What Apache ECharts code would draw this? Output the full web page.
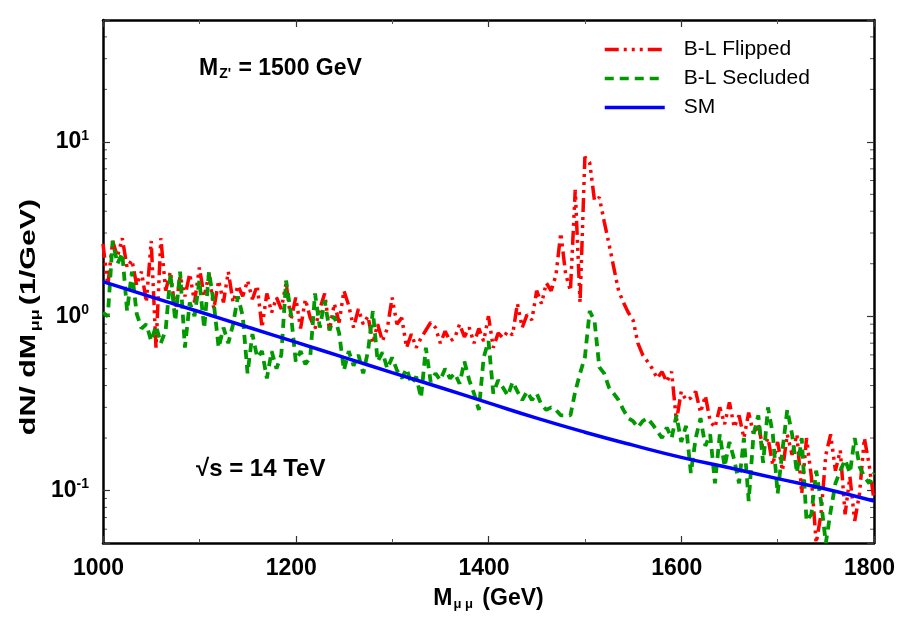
<!DOCTYPE html>
<html>
<head>
<meta charset="utf-8">
<script src="https://cdn.jsdelivr.net/npm/echarts@6.0.0/dist/echarts.min.js"></script>
<style>
  html, body { margin: 0; padding: 0; background: #fff; }
  #main { width: 898px; height: 618px; }
</style>
</head>
<body>
<div id="main"></div>
<script>
const chart = echarts.init(document.getElementById("main"));

// bins of 5 GeV from 1000 to 1800
const binStart = 1000;
const binWidth = 5;

// B-L Flipped, dN/dM per bin
const flipped = [
  2.6, 1.5, 2.7, 2.2, 2.8, 1.9, 2.1, 1.5, 1.8, 1.2,
  2.7, 0.66, 2.8, 1.4, 1.8, 1.05, 1.7, 1.3, 1.75, 1.2,
  1.9, 1.3, 1.75, 1.1, 1.6, 1.2, 1.8, 1.2, 1.5, 1.3,
  1.6, 1.25, 1.5, 0.86, 1.35, 1.05, 1.28, 1.1, 1.55, 0.95,
  1.28, 0.85, 1.25, 0.98, 0.85, 1.1, 1.35, 0.83, 1.18, 0.92,
  1.4, 1.15, 0.86, 1.1, 0.9, 1.0, 0.7, 0.9, 0.72, 0.85,
  1.28, 0.9, 0.98, 0.66, 0.79, 0.66, 0.75, 0.83, 0.92, 0.86,
  0.7, 0.82, 0.72, 0.75, 0.9, 0.76, 0.86, 0.7, 0.85, 0.72,
  1.0, 0.66, 0.8, 0.75, 0.82, 0.78, 1.18, 0.86, 1.02, 0.95,
  1.4, 1.18, 1.55, 1.4, 1.72, 3.0, 1.75, 1.4, 5.3, 1.2,
  8.2, 7.6, 4.6, 4.8, 3.5, 2.6, 1.9, 1.4, 1.2, 1.05,
  0.95, 0.7, 0.6, 0.55, 0.5, 0.44, 0.48, 0.42, 0.48, 0.25,
  0.37, 0.33, 0.34, 0.37, 0.28, 0.35, 0.25, 0.23, 0.3, 0.24,
  0.32, 0.23, 0.27, 0.2, 0.28, 0.21, 0.24, 0.17, 0.2, 0.14,
  0.19, 0.13, 0.21, 0.16, 0.21, 0.096, 0.2, 0.12, 0.05, 0.073,
  0.16, 0.21, 0.13, 0.17, 0.073, 0.12, 0.067, 0.096, 0.2, 0.14,
  0.088
];

// B-L Secluded
const secluded = [
  1.05, 1.0, 2.7, 2.0, 2.3, 1.07, 1.8, 1.03, 0.85, 0.9,
  0.72, 0.88, 0.7, 0.83, 1.75, 0.94, 1.8, 0.66, 1.2, 1.0,
  1.6, 0.85, 1.8, 1.18, 0.66, 0.86, 0.7, 0.9, 1.3, 1.0,
  0.47, 0.79, 0.58, 0.63, 0.44, 0.63, 0.5, 0.6, 1.6, 1.03,
  0.55, 0.63, 0.53, 0.58, 1.35, 0.86, 1.23, 0.83, 1.0, 0.8,
  0.49, 0.63, 0.52, 0.6, 0.47, 0.63, 1.07, 0.55, 0.62, 0.5,
  0.58, 0.49, 0.44, 0.5, 0.41, 0.45, 0.34, 0.66, 0.42, 0.47,
  0.43, 0.5, 0.44, 0.47, 0.41, 0.55, 0.43, 0.36, 0.29, 0.58,
  0.72, 0.36, 0.43, 0.39, 0.35, 0.42, 0.37, 0.33, 0.37, 0.33,
  0.36, 0.31, 0.29, 0.3, 0.29, 0.27, 0.27, 0.27, 0.37, 0.47,
  0.58, 1.07, 0.94, 0.51, 0.47, 0.39, 0.36, 0.33, 0.29, 0.26,
  0.25, 0.23, 0.25, 0.26, 0.24, 0.22, 0.2, 0.23, 0.2, 0.27,
  0.19, 0.235, 0.126, 0.2, 0.26, 0.18, 0.21, 0.11, 0.21, 0.137,
  0.19, 0.15, 0.11, 0.2, 0.087, 0.21, 0.27, 0.144, 0.3, 0.21,
  0.096, 0.17, 0.29, 0.21, 0.126, 0.2, 0.067, 0.073, 0.13, 0.087,
  0.05, 0.076, 0.11, 0.13, 0.15, 0.126, 0.2, 0.137, 0.12, 0.11,
  0.126
];

// SM background, every 50 GeV
const smMass = [1000, 1050, 1100, 1150, 1200, 1250, 1300, 1350, 1400,
  1450, 1500, 1550, 1600, 1650, 1700, 1750, 1800];
const smValues = [1.58, 1.29, 1.06, 0.867, 0.71, 0.58, 0.475, 0.39, 0.318,
  0.26, 0.216, 0.182, 0.155, 0.135, 0.117, 0.102, 0.087];

const xTicks = [1000, 1200, 1400, 1600, 1800];
const yMinorMult = [2, 3, 4, 5, 6, 7, 8, 9];
const yDecades = [0.01, 0.1, 1, 10];

const FONT = "Liberation Sans";

function pairs(values) {
  return values.map((v, i) => [binStart + i * binWidth, v]);
}

const xBase = {
  type: "value",
  min: xTicks[0],
  max: xTicks[xTicks.length - 1],
  interval: 200,
  splitLine: { show: false },
  axisLine: { lineStyle: { color: "#000", width: 2.5 } },
  axisTick: { inside: true, length: 7, lineStyle: { color: "#333", width: 1.2 } },
  minorTick: { show: true, splitNumber: 2, length: 4, lineStyle: { color: "#555" } }
};

const yBase = {
  type: "log",
  logBase: 10,
  min: 0.05,
  max: 50,
  splitLine: { show: false },
  axisLine: { lineStyle: { color: "#000", width: 2.5 } },
  axisTick: { inside: true, length: 7, lineStyle: { color: "#333", width: 1.2 } }
};

let option = {
  animation: false,
  grid: { left: 103, right: 24, top: 20, bottom: 75, containLabel: false, outerBoundsMode: "none" },
  legend: {
    orient: "vertical",
    left: 603,
    top: 39,
    padding: 0,
    itemWidth: 60,
    itemHeight: 14,
    itemGap: 8,
    itemStyle: { opacity: 0 },
    lineStyle: { width: 3.5 },
    textStyle: { fontFamily: FONT, fontSize: 21, color: "#000", padding: [0, 0, 0, 14] },
    data: ["B-L Flipped", "B-L Secluded", "SM"]
  },
  xAxis: [
    Object.assign({}, xBase, {
      position: "bottom",
      name: "{b|M}{sub|μ μ}{b| (GeV)}",
      nameLocation: "middle",
      nameGap: 43,
      nameTextStyle: {
        rich: {
          b: { fontFamily: FONT, fontWeight: "bold", fontSize: 23, color: "#000" },
          sub: { fontFamily: FONT, fontWeight: "bold", fontSize: 13, color: "#000", padding: [12, 3, 0, 1] }
        }
      },
      axisLabel: {
        margin: 14,
        padding: [0, 9, 0, 0],
        formatter: (v) => String(v),
        fontFamily: FONT, fontWeight: "bold", fontSize: 23, color: "#000"
      }
    }),
    Object.assign({}, xBase, { position: "top", axisLabel: { show: false } })
  ],
  yAxis: [
    Object.assign({}, yBase, {
      position: "left",
      axisLabel: {
        margin: 14,
        formatter: (v) => {
          const e = Math.log10(v);
          const r = Math.round(e);
          if (Math.abs(e - r) > 1e-6) return "";
          return "{b|10}{s|" + r + "}";
        },
        rich: {
          b: { fontFamily: FONT, fontWeight: "bold", fontSize: 23, color: "#000" },
          s: { fontFamily: FONT, fontWeight: "bold", fontSize: 14, color: "#000", padding: [0, 0, 12, 0] }
        }
      }
    }),
    Object.assign({}, yBase, { position: "right", axisLabel: { show: false } })
  ],
  series: [
    {
      name: "B-L Flipped",
      type: "line",
      symbol: "none",
      data: pairs(flipped),
      z: 3,
      lineStyle: { color: "#ff0000", width: 3.5, type: [14, 5, 3, 5, 3, 5, 3, 5] },
      itemStyle: { color: "#ff0000" }
    },
    {
      name: "B-L Secluded",
      type: "line",
      symbol: "none",
      data: pairs(secluded),
      z: 4,
      lineStyle: { color: "#009a00", width: 3.8, type: [9, 6] },
      itemStyle: { color: "#009a00" }
    },
    {
      name: "SM",
      type: "line",
      symbol: "none",
      smooth: true,
      data: smMass.map((m, i) => [m, smValues[i]]),
      z: 5,
      lineStyle: { color: "#0000ff", width: 3.5 },
      itemStyle: { color: "#0000ff" }
    }
  ],
  graphic: [
    {
      type: "text",
      left: 199,
      top: 57,
      style: {
        text: "{b|M}{sub|Z'}{b| = 1500 GeV}",
        rich: {
          b: { fontFamily: FONT, fontWeight: "bold", fontSize: 23, fill: "#000" },
          sub: { fontFamily: FONT, fontWeight: "bold", fontSize: 14, fill: "#000", padding: [11, 1, 0, 1] }
        }
      }
    },
    {
      type: "text",
      left: 196,
      top: 457,
      style: {
        text: "√s = 14 TeV",
        fontFamily: FONT,
        fontWeight: "bold",
        fontSize: 24,
        fill: "#000"
      }
    },
    {
      // y axis title, stretched along its length like the original
      type: "text",
      x: 29,
      y: 317,
      rotation: Math.PI / 2,
      scaleX: 1.38,
      style: {
        text: "{b|dN/ dM}{sub|μμ}{b|(1/GeV)}",
        align: "center",
        verticalAlign: "middle",
        rich: {
          b: { fontFamily: FONT, fontWeight: "bold", fontSize: 22, fill: "#000" },
          sub: { fontFamily: FONT, fontWeight: "bold", fontSize: 13, fill: "#000", padding: [12, 3, 0, 2] }
        }
      }
    }
  ]
};

chart.setOption(option);

// log minor ticks (2..9 per decade) on left and right axes
function addMinorTicks() {
  const left = chart.convertToPixel({ xAxisIndex: 0 }, xTicks[0]);
  const right = chart.convertToPixel({ xAxisIndex: 0 }, xTicks[xTicks.length - 1]);
  const els = [];
  yDecades.forEach((d) => {
    yMinorMult.forEach((k) => {
      const v = d * k;
      if (v <= 0.05 || v >= 50) return;
      const y = chart.convertToPixel({ yAxisIndex: 0 }, v);
      els.push({ type: "line", shape: { x1: left, y1: y, x2: left + 4, y2: y }, style: { stroke: "#555", lineWidth: 1 }, silent: true });
      els.push({ type: "line", shape: { x1: right, y1: y, x2: right - 4, y2: y }, style: { stroke: "#555", lineWidth: 1 }, silent: true });
    });
  });
  chart.setOption({ graphic: option.graphic.concat(els) });
}
addMinorTicks();
</script>
</body>
</html>
